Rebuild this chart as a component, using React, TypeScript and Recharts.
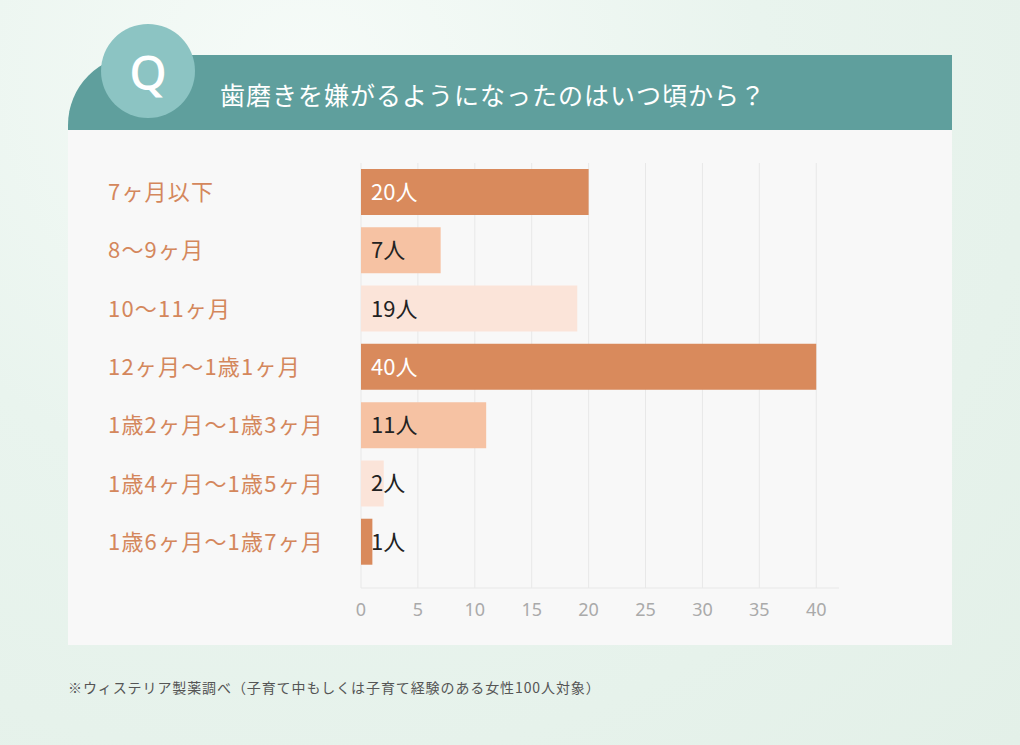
import { BarChart, Bar, XAxis, YAxis, CartesianGrid, Cell, LabelList } from "recharts";

const categories = [
  "7ヶ月以下",
  "8〜9ヶ月",
  "10〜11ヶ月",
  "12ヶ月〜1歳1ヶ月",
  "1歳2ヶ月〜1歳3ヶ月",
  "1歳4ヶ月〜1歳5ヶ月",
  "1歳6ヶ月〜1歳7ヶ月",
];
const counts = [20, 7, 19, 40, 11, 2, 1];
const shades = ["dark", "mid", "light", "dark", "mid", "light", "dark"];
const xTicks = [0, 5, 10, 15, 20, 25, 30, 35, 40];

const FONT = "'Noto Sans CJK JP', 'Noto Sans', sans-serif";
const SHADE_COLORS: Record<string, string> = {
  dark: "#d98a5c",
  mid: "#f6c2a3",
  light: "#fbe4d9",
};

const data = categories.map((name, i) => ({ name, count: counts[i], shade: shades[i] }));

const CategoryTick = (props: any) => {
  const { y, payload } = props;
  return (
    <text
      x={40}
      y={y}
      dy={8}
      textAnchor="start"
      fill="#d4875c"
      fontSize={22}
      letterSpacing={1.2}
      fontFamily={FONT}
    >
      {payload.value}
    </text>
  );
};

const CountLabel = (props: any) => {
  const { x, y, height, value, index } = props;
  const dark = shades[index] === "dark" && value > 2;
  return (
    <text
      x={x + 10}
      y={y + height / 2}
      dy={8}
      fill={dark ? "#ffffff" : "#222222"}
      fontSize={22}
      fontFamily={FONT}
    >
      {value}人
    </text>
  );
};

export default function App() {
  return (
    <div
      style={{
        position: "absolute",
        left: 0,
        top: 0,
        width: 1020,
        height: 745,
        overflow: "hidden",
        fontFamily: FONT,
        background:
          "radial-gradient(ellipse at 30% 10%, #f6fbf8 0%, #e9f4ee 45%, #e3f0e8 100%)",
      }}
    >
      <div
        style={{
          position: "absolute",
          left: 68,
          top: 130,
          width: 884,
          height: 515,
          background: "#f8f8f8",
        }}
      />
      <div
        style={{
          position: "absolute",
          left: 68,
          top: 55,
          width: 884,
          height: 75,
          background: "#5f9f9d",
          borderTopLeftRadius: 70,
        }}
      />
      <div
        style={{
          position: "absolute",
          left: 101,
          top: 24,
          width: 94,
          height: 94,
          borderRadius: "50%",
          background: "#8cc4c3",
          color: "#ffffff",
          fontSize: 48,
          fontWeight: 500,
          fontFamily: "'Noto Sans', sans-serif",
          display: "flex",
          alignItems: "center",
          justifyContent: "center",
        }}
      >
        Q
      </div>
      <div
        style={{
          position: "absolute",
          left: 220,
          top: 76,
          color: "#ffffff",
          fontSize: 25,
          letterSpacing: 1,
          lineHeight: "36px",
        }}
      >
        歯磨きを嫌がるようになったのはいつ頃から？
      </div>
      <div style={{ position: "absolute", left: 68, top: 130 }}>
        <BarChart
          width={884}
          height={515}
          data={data}
          layout="vertical"
          margin={{ top: 33, right: 113, bottom: 17, left: 0 }}
          barSize={46}
        >
          <CartesianGrid horizontal={false} stroke="#e8e8e8" syncWithTicks />
          <XAxis
            type="number"
            domain={[0, 42]}
            ticks={xTicks}
            allowDataOverflow
            axisLine={{ stroke: "#e8e8e8" }}
            tickLine={false}
            tickMargin={9}
            height={40}
            tick={{ fill: "#aaaaaa", fontSize: 18, fontFamily: "'Noto Sans', sans-serif" }}
          />
          <YAxis
            type="category"
            dataKey="name"
            width={293}
            axisLine={false}
            tickLine={false}
            padding={{ top: 0, bottom: 17 }}
            tick={<CategoryTick />}
          />
          <Bar dataKey="count" isAnimationActive={false}>
            {data.map((d, i) => (
              <Cell key={`cell-${i}`} fill={SHADE_COLORS[d.shade]} />
            ))}
            <LabelList dataKey="count" content={<CountLabel />} />
          </Bar>
        </BarChart>
      </div>
      <div
        style={{
          position: "absolute",
          left: 68,
          top: 677,
          color: "#555555",
          fontSize: 14,
          letterSpacing: 0.9,
        }}
      >
        ※ウィステリア製薬調べ（子育て中もしくは子育て経験のある女性100人対象）
      </div>
    </div>
  );
}
